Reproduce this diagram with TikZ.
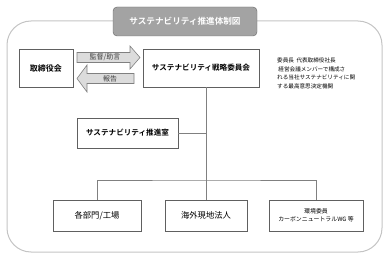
\documentclass[tikz,border=0pt]{standalone}
\usepackage{fontspec}
\setmainfont{Noto Sans CJK JP}[BoldFont={Noto Sans CJK JP Bold}]
\usetikzlibrary{positioning}
\definecolor{boxline}{HTML}{606060}
\definecolor{conn}{HTML}{808080}
\definecolor{outer}{HTML}{C4C4C4}
\definecolor{titlefill}{HTML}{A3A3A3}
\definecolor{arrowfill}{HTML}{DCDCDC}
\tikzset{
  orgbox/.style={draw=boxline, line width=0.6pt, fill=white, inner sep=0pt},
  conline/.style={draw=conn, line width=0.8pt},
  blockarrow/.style={draw=conn, line width=0.6pt, fill=arrowfill},
}
\begin{document}
\begin{tikzpicture}[x=1pt,y=-1pt]
\useasboundingbox (0,0) rectangle (389,254);
% outer frame
\draw[outer, line width=1pt, rounded corners=24pt] (7,21) rectangle (382,252);
% title
\node[draw=gray!80!black, fill=titlefill, rounded corners=4pt, minimum width=144pt, minimum height=29pt, inner sep=0pt, text=white, font=\fontsize{8.6}{10}\selectfont\bfseries] (title) at (185,21.5) {サステナビリティ推進体制図};
% boxes
\node[orgbox, minimum width=54pt, minimum height=38pt, font=\fontsize{8}{10}\selectfont\bfseries] (board) at (46,68) {取締役会};
\node[orgbox, minimum width=116pt, minimum height=38pt, font=\fontsize{7.6}{10}\selectfont\bfseries] (strat) at (201,68) {サステナビリティ戦略委員会};
\node[orgbox, minimum width=101pt, minimum height=30pt, font=\fontsize{7.6}{10}\selectfont\bfseries] (office) at (127.5,133) {サステナビリティ推進室};
\node[orgbox, minimum width=88pt, minimum height=31pt, font=\fontsize{8.3}{10}\selectfont] (dept) at (97,215.5) {各部門/工場};
\node[orgbox, minimum width=82pt, minimum height=31pt, font=\fontsize{8.3}{10}\selectfont] (overseas) at (206,215.5) {海外現地法人};
\node[orgbox, minimum width=94pt, minimum height=31pt, align=center, font=\fontsize{5.9}{7.8}\selectfont] (env) at (316,215.5) {環境委員\\カーボンニュートラルWG 等};
% annotation
\node[anchor=north west, align=left, inner sep=0pt, font=\fontsize{5.6}{8.4}\selectfont] (note) at (277,58) {委員長\ \ 代表取締役社長\\\ 経営会議メンバーで構成さ\\れる当社サステナビリティに関\\する最高意思決定機関};
% block arrows
\draw[blockarrow] (77,52.5) -- (130,52.5) -- (130,46) -- (140,57.5) -- (130,69) -- (130,62.5) -- (77,62.5) -- cycle;
\node[font=\fontsize{7}{8}\selectfont, text=black!75] (adv) at (105,57.5) {監督/助言};
\draw[blockarrow] (134,73.5) -- (87,73.5) -- (87,65) -- (77,78.5) -- (87,92) -- (87,83.5) -- (134,83.5) -- cycle;
\node[font=\fontsize{7}{8}\selectfont, text=black!75] (rep) at (110,78.5) {報告};
% connectors
\coordinate (bus) at (206,180);
\draw[conline] (strat.south -| bus) -- (bus);
\draw[conline] (office.east) -- (office.east -| bus);
\draw[conline] (dept.north) |- (bus) -| (env.north);
\draw[conline] (bus) -- (overseas.north);
\end{tikzpicture}
\end{document}
